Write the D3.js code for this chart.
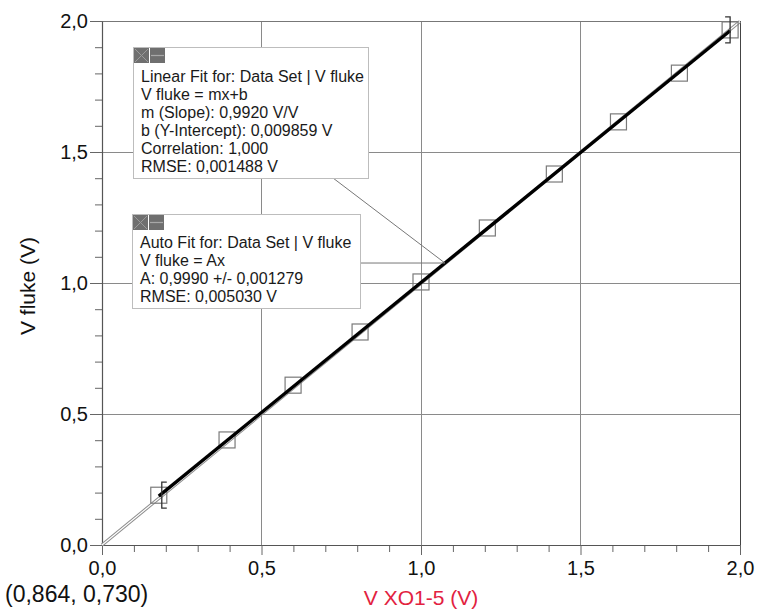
<!DOCTYPE html>
<html>
<head>
<meta charset="utf-8">
<script src="https://cdn.jsdelivr.net/npm/d3@7/dist/d3.min.js"></script>
<style>
  html, body { margin: 0; padding: 0; background: #fff; }
  svg { display: block; font-family: "Liberation Sans", Arial, sans-serif; }
</style>
</head>
<body>
<svg id="chart" width="757" height="610"></svg>
<script>
// ---- data ----
const xValues = [0.178, 0.392, 0.599, 0.809, 1.000, 1.208, 1.418, 1.619, 1.810, 1.969];
const yValues = [0.190, 0.401, 0.610, 0.813, 1.004, 1.210, 1.416, 1.615, 1.801, 1.966];
const majorTicks = [0, 0.5, 1.0, 1.5, 2.0];
const minorTicks = [0.1,0.2,0.3,0.4,0.6,0.7,0.8,0.9,1.1,1.2,1.3,1.4,1.6,1.7,1.8,1.9];
const linearFit = { m: 0.9920, b: 0.009859 };
const autoFit = { A: 0.9990 };
const linearFitLines = [
  "Linear Fit for: Data Set | V fluke",
  "V fluke = mx+b",
  "m (Slope): 0,9920 V/V",
  "b (Y-Intercept): 0,009859 V",
  "Correlation: 1,000",
  "RMSE: 0,001488 V"
];
const autoFitLines = [
  "Auto Fit for: Data Set | V fluke",
  "V fluke = Ax",
  "A: 0,9990 +/- 0,001279",
  "RMSE: 0,005030 V"
];
const xTitle = "V XO1-5 (V)";
const yTitle = "V fluke (V)";
const cornerText = "(0,864, 0,730)";

// ---- layout ----
const svg = d3.select("#chart");
const x = d3.scaleLinear().domain([0, 2]).range([102, 740]);
const y = d3.scaleLinear().domain([0, 2]).range([545, 21]);
const fmt = v => d3.format(".1f")(v).replace(".", ",");
const gridColor = "#8a8a8a";

// grid
svg.append("g").selectAll("line.gx").data(majorTicks.slice(1, 4)).join("line")
  .attr("x1", d => x(d)).attr("x2", d => x(d)).attr("y1", y(0)).attr("y2", y(2))
  .attr("stroke", gridColor).attr("stroke-width", 1).attr("shape-rendering", "crispEdges");
svg.append("g").selectAll("line.gy").data(majorTicks.slice(1, 4)).join("line")
  .attr("x1", x(0)).attr("x2", x(2)).attr("y1", d => y(d)).attr("y2", d => y(d))
  .attr("stroke", gridColor).attr("stroke-width", 1).attr("shape-rendering", "crispEdges");
// frame top/right
svg.append("line").attr("x1", x(0)).attr("x2", x(2)).attr("y1", y(2)).attr("y2", y(2))
  .attr("stroke", "#777").attr("shape-rendering", "crispEdges");
svg.append("line").attr("x1", x(2)).attr("x2", x(2)).attr("y1", y(0)).attr("y2", y(2))
  .attr("stroke", "#444").attr("shape-rendering", "crispEdges");

// axes
function styleAxis(g) {
  g.select(".domain").attr("stroke", "#555").attr("stroke-width", 1.2);
  g.selectAll(".tick line").attr("stroke", "#666");
  g.selectAll("text").attr("fill", "#111").attr("font-size", 20)
    .attr("font-family", "'Liberation Sans', Arial, sans-serif");
}
const xMinor = svg.append("g").attr("transform", `translate(0,${y(0)})`)
  .call(d3.axisBottom(x).tickValues(minorTicks).tickSize(7).tickFormat(""));
xMinor.select(".domain").remove();
xMinor.selectAll(".tick line").attr("stroke", "#666");
const yMinor = svg.append("g").attr("transform", `translate(${x(0)},0)`)
  .call(d3.axisLeft(y).tickValues(minorTicks).tickSize(7).tickFormat(""));
yMinor.select(".domain").remove();
yMinor.selectAll(".tick line").attr("stroke", "#666");

const xAxis = svg.append("g").attr("transform", `translate(0,${y(0)})`)
  .call(d3.axisBottom(x).tickValues(majorTicks).tickSize(10).tickPadding(6).tickSizeOuter(0).tickFormat(fmt));
styleAxis(xAxis);
const yAxis = svg.append("g").attr("transform", `translate(${x(0)},0)`)
  .call(d3.axisLeft(y).tickValues(majorTicks).tickSize(12).tickPadding(2).tickSizeOuter(0).tickFormat(fmt));
styleAxis(yAxis);

// auto fit line (double line) across full range
const autoLine = [[0, 0], [2, autoFit.A * 2]];
const lineGen = d3.line().x(d => x(d[0])).y(d => y(d[1]));
svg.append("path").attr("d", lineGen(autoLine)).attr("stroke", "#8c8c8c").attr("stroke-width", 3.2).attr("fill", "none");
svg.append("path").attr("d", lineGen(autoLine)).attr("stroke", "#fff").attr("stroke-width", 1.2).attr("fill", "none");

// data squares
svg.append("g").selectAll("rect").data(xValues.map((v, i) => [v, yValues[i]])).join("rect")
  .attr("x", d => x(d[0]) - 8).attr("y", d => y(d[1]) - 8)
  .attr("width", 16).attr("height", 16)
  .attr("fill", "none").attr("stroke", "#7a7a7a").attr("stroke-width", 1.2);

// linear fit over data range
const x0 = d3.min(xValues), x1 = d3.max(xValues);
const linPts = [[x0, linearFit.m * x0 + linearFit.b], [x1, linearFit.m * x1 + linearFit.b]];
svg.append("path").attr("d", lineGen(linPts)).attr("stroke", "#000").attr("stroke-width", 3.3).attr("fill", "none");

// range brackets: "[" at the start, "]" at the end
(function () {
  const cx = x(xValues[0]) + 3, cy = y(yValues[0]);
  svg.append("path").attr("d", `M${cx + 5},${cy - 13}H${cx}V${cy + 13}H${cx + 5}`)
    .attr("fill", "none").attr("stroke", "#333").attr("stroke-width", 1.3);
})();
(function () {
  const cx = x(xValues[xValues.length - 1]), cy = y(yValues[yValues.length - 1]);
  svg.append("path").attr("d", `M${cx - 5},${cy - 13}H${cx}V${cy + 13}H${cx - 5}`)
    .attr("fill", "none").attr("stroke", "#333").attr("stroke-width", 1.3);
})();

// annotation leader lines
const anchorX = 1.075;
const anchor = [x(anchorX), y(linearFit.m * anchorX + linearFit.b)];
svg.append("line").attr("x1", 333).attr("y1", 178).attr("x2", anchor[0]).attr("y2", anchor[1])
  .attr("stroke", "#777").attr("stroke-width", 1);
svg.append("line").attr("x1", 360).attr("y1", anchor[1]).attr("x2", anchor[0]).attr("y2", anchor[1])
  .attr("stroke", "#777").attr("stroke-width", 1);

function box(left, top, w, h, lines, baseline0) {
  const g = svg.append("g");
  g.append("rect").attr("x", left + 0.5).attr("y", top + 0.5).attr("width", w).attr("height", h)
    .attr("fill", "#fff").attr("stroke", "#bdbdbd").attr("stroke-width", 1);
  g.append("rect").attr("x", left + 1).attr("y", top + 1).attr("width", 15).attr("height", 15).attr("fill", "#6f6f6f");
  g.append("path").attr("d", `M${left + 2},${top + 2}L${left + 15},${top + 15}M${left + 15},${top + 2}L${left + 2},${top + 15}`)
    .attr("stroke", "#9a9a9a").attr("stroke-width", 1);
  g.append("rect").attr("x", left + 17).attr("y", top + 1).attr("width", 15).attr("height", 15).attr("fill", "#6f6f6f");
  g.append("line").attr("x1", left + 18).attr("x2", left + 31).attr("y1", top + 8.5).attr("y2", top + 8.5)
    .attr("stroke", "#a8a8a8").attr("stroke-width", 1.2);
  g.selectAll("text").data(lines).join("text")
    .attr("x", left + 8).attr("y", (d, i) => baseline0 + i * 18)
    .attr("font-size", 16).attr("fill", "#1a1a1a").text(d => d);
}
box(133, 47, 235, 131, linearFitLines, 82);
box(132, 214, 228, 94, autoFitLines, 248);

// titles
svg.append("text").attr("x", 421).attr("y", 605).attr("text-anchor", "middle")
  .attr("font-size", 21).attr("fill", "#e2223f").text(xTitle);
svg.append("text").attr("transform", "translate(35,286) rotate(-90)").attr("text-anchor", "middle")
  .attr("font-size", 21).attr("fill", "#111").text(yTitle);
svg.append("text").attr("x", 5).attr("y", 602).attr("font-size", 23).attr("fill", "#111").text(cornerText);
</script>
</body>
</html>
